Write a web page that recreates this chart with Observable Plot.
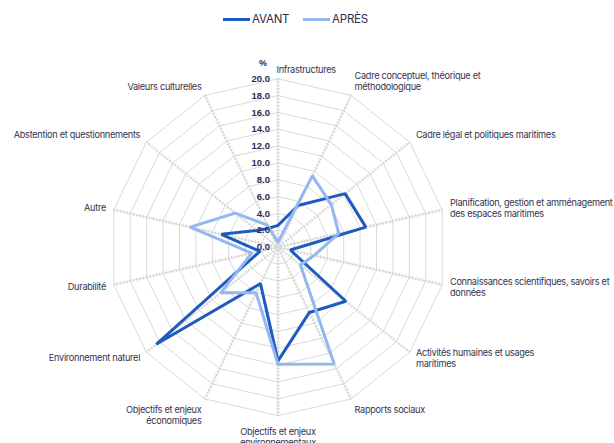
<!DOCTYPE html>
<html><head><meta charset="utf-8">
<script src="https://cdn.jsdelivr.net/npm/d3@7"></script>
<script src="https://cdn.jsdelivr.net/npm/@observablehq/plot@0.6"></script>
<style>
body{margin:0;background:#fff;font-family:Inter,"Noto Sans",sans-serif;}
#legend{height:38px;position:relative;font-size:11.5px;color:#2b2b4a;letter-spacing:-0.2px;}
#legend .sw{position:absolute;top:18px;width:27px;height:3px;}
#legend .lb{position:absolute;top:12px;line-height:14px;}
#chart svg{display:block;}
#chart svg .cat text{letter-spacing:-0.3px;}
</style></head><body>
<div id="legend"></div>
<div id="chart"></div>
<script>
const categories = [
  "Infrastructures",
  "Cadre conceptuel, théorique et\nméthodologique",
  "Cadre légal et politiques maritimes",
  "Planification, gestion et amménagement\ndes espaces maritimes",
  "Connaissances scientifiques, savoirs et\ndonnées",
  "Activités humaines et usages\nmaritimes",
  "Rapports sociaux",
  "Objectifs et enjeux\nenvironnementaux",
  "Objectifs et enjeux\néconomiques",
  "Environnement naturel",
  "Durabilité",
  "Autre",
  "Abstention et questionnements",
  "Valeurs culturelles"
];
const avant = [2.6, 5.5, 10.2, 10.7, 1.5, 10.3, 8.6, 13.5, 4.8, 18.5, 2.2, 6.9, 3.2, 2.5];
const apres = [0.6, 9.4, 8.1, 7.4, 4.4, 3.4, 15.4, 13.9, 6.0, 8.7, 3.2, 10.7, 6.5, 2.9];
const seriesNames = ["AVANT", "APRÈS"];
const seriesColors = ["#1f5bbf", "#93b7ef"];
const radialTicks = [0, 2, 4, 6, 8, 10, 12, 14, 16, 18, 20];
const unitLabel = "%";

// legend
const leg = document.getElementById("legend");
const legX = [223, 303];
seriesNames.forEach((s, i) => {
  const sw = document.createElement("span"); sw.className = "sw";
  sw.style.left = legX[i] + "px"; sw.style.background = seriesColors[i]; leg.appendChild(sw);
  const lb = document.createElement("span"); lb.className = "lb";
  lb.style.left = (legX[i] + 29) + "px"; lb.textContent = s; leg.appendChild(lb);
});

const W = 614, H = 405, cx = 277.5, cy = 208.7, k = 8.42;
const rMax = 20, n = categories.length;
const ang = i => i * 2 * Math.PI / n;
const pt = (r, i) => ({x: r * Math.sin(ang(i)), y: r * Math.cos(ang(i))});

const rings = [];
radialTicks.filter(v => v > 0).forEach(lv => {
  for (let i = 0; i <= n; i++) rings.push({lv, ...pt(lv, i % n)});
});
const spokes = d3.range(n).map(i => ({i, ...pt(rMax, i)}));
const minor = [];
d3.range(n).forEach(i => {
  const a = ang(i), h = 0.2;
  for (let t = 0.4; t <= rMax + 1e-6; t += 0.4) {
    const p = pt(t, i);
    minor.push({x1: p.x + h * Math.cos(a), y1: p.y - h * Math.sin(a), x2: p.x - h * Math.cos(a), y2: p.y + h * Math.sin(a)});
  }
});
const series = [];
[avant, apres].forEach((vals, s) => vals.forEach((v, i) => series.push({s: seriesNames[s], i, v, ...pt(v, i)})));

const txtColor = "#33334f";
const labelMarks = categories.map((c, i) => {
  const a = ang(i), sn = Math.sin(a), cs = Math.cos(a);
  const p = pt(rMax, i);
  let textAnchor, lineAnchor, dx, dy;
  if (Math.abs(sn) < 0.01) {
    textAnchor = cs > 0 ? "start" : "middle";
    lineAnchor = cs > 0 ? "bottom" : "top";
    dx = cs > 0 ? -1.5 : 0; dy = cs > 0 ? -6 : 12;
  } else {
    textAnchor = sn > 0 ? "start" : "end";
    dx = sn * 8;
    if (cs > 0.5) { lineAnchor = "bottom"; dy = -cs * 6; }
    else if (cs < -0.8) { lineAnchor = "top"; dy = -cs * 7; }
    else { lineAnchor = "middle"; dy = -cs * 9; }
  }
  return Plot.text([{...p, c}], {x: "x", y: "y", text: "c", textAnchor, lineAnchor, dx, dy,
    fill: txtColor, fontSize: 9.2, lineHeight: 1.2, fontFamily: "Inter, sans-serif", className: "cat"});
});

const chart = Plot.plot({
  width: W, height: H,
  marginTop: 0, marginBottom: 0, marginLeft: 0, marginRight: 0,
  x: {domain: [-cx / k, (W - cx) / k], range: [0, W], axis: null},
  y: {domain: [-(H - cy) / k, cy / k], range: [H, 0], axis: null},
  color: {domain: seriesNames, range: seriesColors},
  style: {fontFamily: "Inter, sans-serif", background: "#fff"},
  marks: [
    Plot.line(rings, {x: "x", y: "y", z: "lv", stroke: "#d9d9d9", strokeWidth: 1}),
    Plot.link(spokes, {x1: 0, y1: 0, x2: "x", y2: "y", stroke: "#d9d9d9", strokeWidth: 1}),
    Plot.link(minor, {x1: "x1", y1: "y1", x2: "x2", y2: "y2", stroke: "#d4d4d4", strokeWidth: 1}),
    Plot.line(series, {x: "x", y: "y", z: "s", stroke: "s", curve: "linear-closed", strokeWidth: 3, strokeLinejoin: "miter"}),
    Plot.text(radialTicks, {x: 0, y: d => d, text: d => d.toFixed(1), textAnchor: "end", dx: -8,
      fontWeight: "bold", fontSize: 9.5, fill: "#2d2d4d", fontFamily: "Liberation Sans, Arial, sans-serif"}),
    Plot.text([rMax], {x: 0, y: d => d, text: () => unitLabel, dx: -15, dy: -16,
      fontWeight: "bold", fontSize: 9, fill: "#2d2d4d", fontFamily: "Liberation Sans, Arial, sans-serif"}),
    ...labelMarks
  ]
});
document.getElementById("chart").appendChild(chart);
</script>
</body></html>
